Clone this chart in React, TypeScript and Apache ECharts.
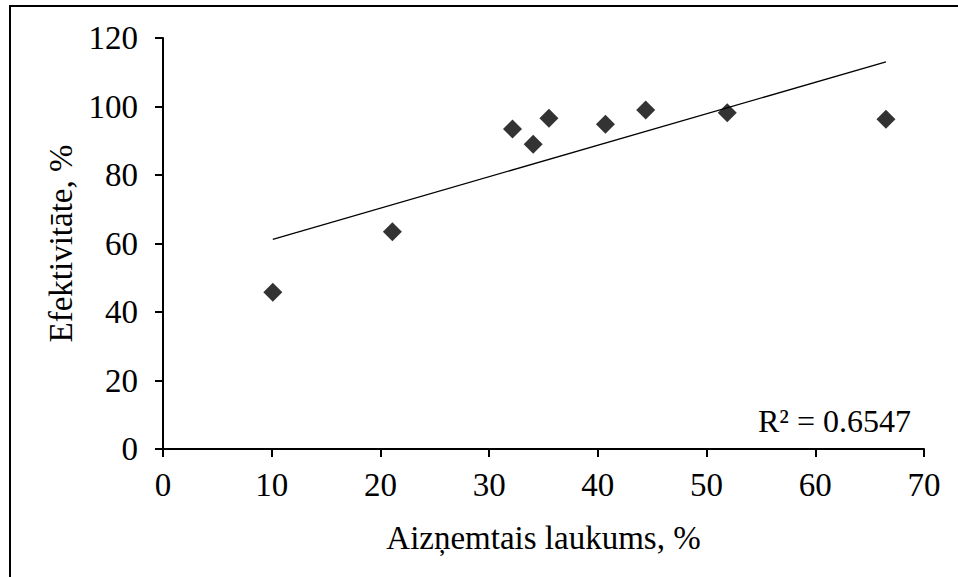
import React, { useEffect, useRef } from "react";
import * as echarts from "echarts";

// Data
const xValues = [10.1, 21.1, 32.15, 34.05, 35.5, 40.7, 44.4, 51.9, 66.5];
const yValues = [45.8, 63.4, 93.4, 89.0, 96.6, 94.8, 99.0, 98.2, 96.3];
const xAxisRange = [0, 70];
const yAxisRange = [0, 120];
const xAxisStep = 10;
const yAxisStep = 20;
const xAxisTitle = "Aizņemtais laukums, %";
const yAxisTitle = "Efektivitāte, %";
const r2Label = "R² = 0.6547";

const FONT = '"Liberation Serif", "Times New Roman", serif';

function linearTrend(xs: number[], ys: number[]) {
  const n = xs.length;
  const mx = xs.reduce((a, b) => a + b, 0) / n;
  const my = ys.reduce((a, b) => a + b, 0) / n;
  let sxy = 0;
  let sxx = 0;
  for (let i = 0; i < n; i++) {
    sxy += (xs[i] - mx) * (ys[i] - my);
    sxx += (xs[i] - mx) * (xs[i] - mx);
  }
  const slope = sxy / sxx;
  const intercept = my - slope * mx;
  const x0 = Math.min(...xs);
  const x1 = Math.max(...xs);
  return [
    [x0, intercept + slope * x0],
    [x1, intercept + slope * x1],
  ];
}

export default function App() {
  const ref = useRef<HTMLDivElement>(null);

  useEffect(() => {
    if (!ref.current) return;
    const chart = echarts.init(ref.current, null, { renderer: "svg" });
    const points = xValues.map((x, i) => [x, yValues[i]]);
    const trend = linearTrend(xValues, yValues);

    chart.setOption({
      animation: false,
      backgroundColor: "#ffffff",
      grid: { left: 163, right: 34, top: 38, bottom: 128, containLabel: false },
      xAxis: {
        type: "value",
        min: xAxisRange[0],
        max: xAxisRange[1],
        interval: xAxisStep,
        name: xAxisTitle,
        nameLocation: "middle",
        nameGap: 72,
        nameTextStyle: { fontFamily: FONT, fontSize: 33, color: "#000" },
        axisLine: { show: true, onZero: false, lineStyle: { color: "#000", width: 2 } },
        axisTick: { show: true, inside: false, length: 8, lineStyle: { color: "#000", width: 2 } },
        axisLabel: { fontFamily: FONT, fontSize: 33, color: "#000", margin: 19 },
        splitLine: { show: false },
      },
      yAxis: {
        type: "value",
        min: yAxisRange[0],
        max: yAxisRange[1],
        interval: yAxisStep,
        name: yAxisTitle,
        nameLocation: "middle",
        nameGap: 82,
        nameRotate: 90,
        nameTextStyle: { fontFamily: FONT, fontSize: 33, color: "#000" },
        axisLine: { show: true, onZero: false, lineStyle: { color: "#000", width: 2 } },
        axisTick: { show: true, inside: false, length: 8, lineStyle: { color: "#000", width: 2 } },
        axisLabel: { fontFamily: FONT, fontSize: 33, color: "#000", margin: 25 },
        splitLine: { show: false },
      },
      series: [
        {
          type: "line",
          data: trend,
          symbol: "none",
          silent: true,
          lineStyle: { color: "#000", width: 1.3 },
          z: 2,
        },
        {
          type: "scatter",
          data: points,
          symbol: "diamond",
          symbolSize: 19,
          itemStyle: { color: "#000" },
          z: 3,
        },
      ],
      graphic: [
        {
          type: "rect",
          shape: { x: 10, y: 6, width: 1000, height: 1000 },
          style: { fill: "none", stroke: "#000", lineWidth: 2 },
          silent: true,
          z: 0,
        },
        {
          type: "text",
          x: 758,
          y: 421,
          style: {
            text: r2Label,
            fontFamily: FONT,
            fontSize: 32,
            fill: "#000",
            textAlign: "left",
            textVerticalAlign: "middle",
          },
          z: 5,
        },
      ],
    });

    return () => {
      chart.dispose();
    };
  }, []);

  return (
    <div
      ref={ref}
      style={{ position: "absolute", left: 0, top: 0, width: 958, height: 577 }}
    />
  );
}
